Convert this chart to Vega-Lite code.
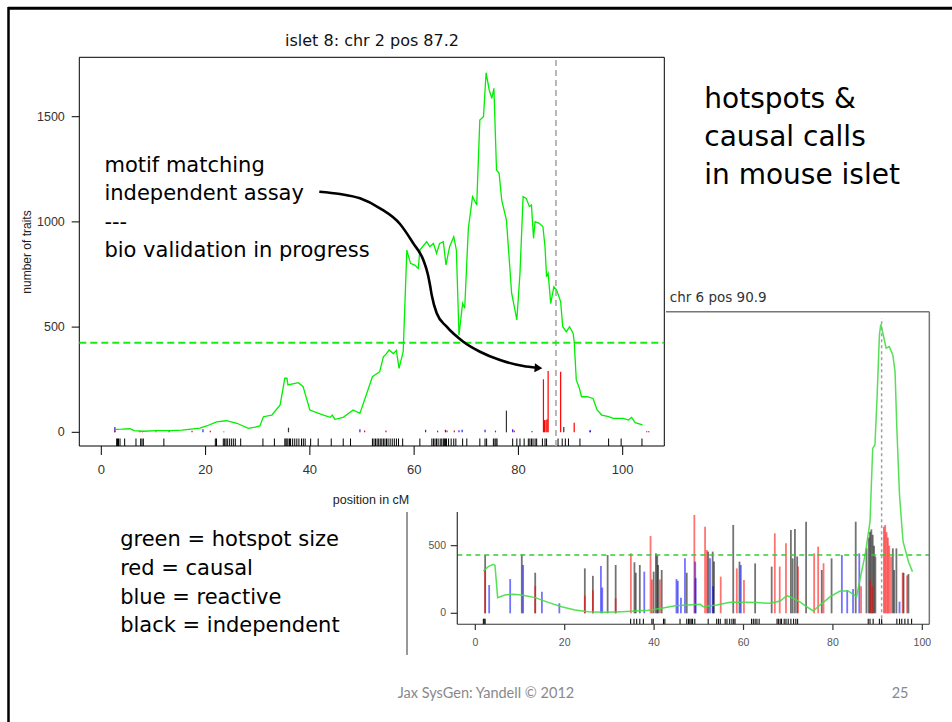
{
  "$schema": "https://vega.github.io/schema/vega-lite/v6.json",
  "width": 952,
  "height": 722,
  "autosize": "none",
  "padding": 0,
  "background": "#ffffff",
  "config": {"view": {"stroke": null}},
  "datasets": {
    "p1curve": [
      {"x":2.6,"y":14},{"x":4.0,"y":15},{"x":5.5,"y":17},{"x":6.3,"y":8},{"x":8.1,"y":5},{"x":10.6,"y":8},{"x":13.2,"y":8},{"x":15.5,"y":10},{"x":18.9,"y":20},{"x":20.2,"y":30},{"x":22.1,"y":50},{"x":24.0,"y":55},{"x":26.0,"y":43},{"x":28.2,"y":19},{"x":29.5,"y":25},{"x":30.4,"y":30},{"x":31.1,"y":74},{"x":32.7,"y":82},{"x":34.3,"y":130},{"x":35.2,"y":257},{"x":35.6,"y":257},{"x":35.8,"y":225},{"x":37.8,"y":236},{"x":38.7,"y":217},{"x":40.0,"y":106},{"x":42.6,"y":82},{"x":43.9,"y":71},{"x":44.3,"y":82},{"x":44.8,"y":62},{"x":46.4,"y":71},{"x":48.3,"y":106},{"x":49.6,"y":90},{"x":50.6,"y":162},{"x":52.0,"y":264},{"x":53.4,"y":288},{"x":54.1,"y":359},{"x":54.7,"y":374},{"x":55.2,"y":391},{"x":56.0,"y":374},{"x":56.6,"y":389},{"x":57.1,"y":304},{"x":57.9,"y":383},{"x":58.6,"y":866},{"x":59.3,"y":803},{"x":60.1,"y":795},{"x":60.8,"y":779},{"x":61.1,"y":866},{"x":62.4,"y":906},{"x":63.0,"y":882},{"x":63.7,"y":898},{"x":64.3,"y":851},{"x":64.9,"y":898},{"x":65.6,"y":906},{"x":66.1,"y":795},{"x":66.8,"y":882},{"x":67.6,"y":930},{"x":68.1,"y":866},{"x":68.6,"y":462},{"x":69.3,"y":613},{"x":69.7,"y":590},{"x":70.4,"y":970},{"x":71.2,"y":1120},{"x":72.0,"y":1080},{"x":72.6,"y":1484},{"x":73.3,"y":1500},{"x":73.8,"y":1709},{"x":74.4,"y":1627},{"x":74.9,"y":1587},{"x":75.3,"y":1635},{"x":75.8,"y":1247},{"x":76.3,"y":1231},{"x":76.8,"y":1104},{"x":77.7,"y":1009},{"x":78.7,"y":661},{"x":79.7,"y":534},{"x":80.3,"y":756},{"x":80.9,"y":1120},{"x":81.5,"y":1112},{"x":82.1,"y":1073},{"x":82.5,"y":1080},{"x":82.9,"y":922},{"x":83.2,"y":1001},{"x":84.0,"y":993},{"x":84.7,"y":977},{"x":85.1,"y":882},{"x":85.4,"y":740},{"x":85.7,"y":756},{"x":86.2,"y":613},{"x":86.8,"y":692},{"x":87.3,"y":677},{"x":88.1,"y":621},{"x":88.5,"y":502},{"x":89.2,"y":478},{"x":89.8,"y":502},{"x":90.5,"y":470},{"x":90.7,"y":431},{"x":91.1,"y":249},{"x":91.7,"y":209},{"x":92.1,"y":169},{"x":93.2,"y":169},{"x":94.3,"y":161},{"x":95.1,"y":106},{"x":96.0,"y":82},{"x":97.3,"y":74},{"x":98.2,"y":66},{"x":100.1,"y":66},{"x":101.1,"y":58},{"x":101.7,"y":71},{"x":102.4,"y":46},{"x":103.8,"y":35}
    ],
    "p1bars": [
      {"x":2.6,"h":25,"type":"reactive"},{"x":2.6,"h":10,"type":"causal"},{"x":7.4,"h":6,"type":"causal"},{"x":7.9,"h":6,"type":"causal"},{"x":10.5,"h":5,"type":"causal"},{"x":13.0,"h":6,"type":"causal"},{"x":17.4,"h":7,"type":"causal"},{"x":19.5,"h":14,"type":"reactive"},{"x":20.9,"h":7,"type":"causal"},{"x":23.5,"h":4,"type":"causal"},{"x":35.9,"h":22,"type":"independent"},{"x":49.6,"h":14,"type":"reactive"},{"x":50.5,"h":8,"type":"causal"},{"x":54.6,"h":8,"type":"causal"},{"x":62.2,"h":12,"type":"reactive"},{"x":64.5,"h":8,"type":"causal"},{"x":66.0,"h":12,"type":"reactive"},{"x":66.3,"h":8,"type":"causal"},{"x":67.7,"h":8,"type":"causal"},{"x":68.6,"h":10,"type":"reactive"},{"x":69.2,"h":12,"type":"reactive"},{"x":73.6,"h":12,"type":"reactive"},{"x":75.6,"h":8,"type":"causal"},{"x":77.7,"h":103,"type":"independent"},{"x":78.9,"h":15,"type":"reactive"},{"x":79.2,"h":8,"type":"causal"},{"x":82.6,"h":6,"type":"causal"},{"x":84.8,"h":252,"type":"causal"},{"x":85.0,"h":58,"type":"causal"},{"x":85.3,"h":58,"type":"causal"},{"x":85.5,"h":62,"type":"causal"},{"x":85.7,"h":291,"type":"causal"},{"x":88.1,"h":288,"type":"causal"},{"x":88.7,"h":25,"type":"independent"},{"x":90.7,"h":46,"type":"causal"},{"x":93.7,"h":8,"type":"causal"},{"x":93.8,"h":10,"type":"reactive"},{"x":104.6,"h":5,"type":"causal"},{"x":105.0,"h":5,"type":"reactive"}
    ],
    "p1rug": [
      {"x":2.95},{"x":3.1},{"x":3.3},{"x":3.59},{"x":4.48},{"x":6.65},{"x":7.55},{"x":7.8},{"x":8.06},{"x":12.0},{"x":21.87},{"x":22.1},{"x":23.4},{"x":23.66},{"x":23.92},{"x":24.17},{"x":24.56},{"x":24.94},{"x":25.32},{"x":25.7},{"x":26.73},{"x":31.0},{"x":33.2},{"x":35.2},{"x":35.4},{"x":35.6},{"x":35.8},{"x":36.1},{"x":36.3},{"x":36.7},{"x":37.1},{"x":37.5},{"x":37.9},{"x":38.4},{"x":38.75},{"x":39.1},{"x":40.15},{"x":41.6},{"x":44.1},{"x":46.4},{"x":47.8},{"x":52.0},{"x":52.3},{"x":52.6},{"x":52.9},{"x":53.2},{"x":53.5},{"x":53.8},{"x":54.1},{"x":54.4},{"x":54.7},{"x":55.0},{"x":55.4},{"x":55.8},{"x":56.2},{"x":56.6},{"x":57.0},{"x":57.8},{"x":61.1},{"x":63.4},{"x":63.7},{"x":64.0},{"x":64.3},{"x":64.6},{"x":65.0},{"x":65.3},{"x":65.6},{"x":65.8},{"x":66.0},{"x":66.2},{"x":66.6},{"x":67.1},{"x":67.6},{"x":68.0},{"x":69.3},{"x":70.1},{"x":72.6},{"x":73.6},{"x":73.9},{"x":75.2},{"x":75.5},{"x":75.7},{"x":75.9},{"x":78.9},{"x":79.7},{"x":80.3},{"x":81.1},{"x":81.9},{"x":82.2},{"x":82.5},{"x":82.8},{"x":83.2},{"x":83.5},{"x":84.6},{"x":85.1},{"x":85.4},{"x":87.6},{"x":88.4},{"x":89.0},{"x":89.6},{"x":91.8},{"x":97.3},{"x":99.7},{"x":103.7}
    ],
    "arrow": [
      {"x":41.81,"y":1143.6},{"x":45.78,"y":1132.6},{"x":49.62,"y":1112},{"x":53.45,"y":1064.6},{"x":57.29,"y":990},{"x":59.84,"y":898},{"x":61.76,"y":819},{"x":62.66,"y":748},{"x":63.04,"y":700},{"x":63.37,"y":652.6},{"x":64.33,"y":565.6},{"x":66.24,"y":501.9},{"x":69.43,"y":430.6},{"x":72.63,"y":383},{"x":76.47,"y":343.6},{"x":80.94,"y":315},{"x":83.5,"y":307}
    ],
    "p2curve": [
      {"x":1.8,"y":313},{"x":2.9,"y":345},{"x":4.0,"y":362},{"x":4.4,"y":355},{"x":5.0,"y":116},{"x":6.6,"y":135},{"x":8.5,"y":140},{"x":10.4,"y":135},{"x":13.4,"y":116},{"x":16.3,"y":81},{"x":19.3,"y":49},{"x":22.3,"y":24},{"x":25.3,"y":12},{"x":29.0,"y":8},{"x":32.8,"y":12},{"x":35.7,"y":17},{"x":38.7,"y":22},{"x":41.7,"y":37},{"x":44.7,"y":56},{"x":47.7,"y":61},{"x":50.3,"y":66},{"x":51.0,"y":49},{"x":54.0,"y":61},{"x":57.0,"y":81},{"x":60.0,"y":81},{"x":63.0,"y":79},{"x":65.9,"y":74},{"x":68.2,"y":91},{"x":69.7,"y":130},{"x":71.1,"y":111},{"x":72.6,"y":85},{"x":74.1,"y":49},{"x":75.6,"y":17},{"x":77.1,"y":61},{"x":79.4,"y":123},{"x":81.6,"y":165},{"x":83.4,"y":165},{"x":85.3,"y":123},{"x":86.1,"y":258},{"x":87.2,"y":431},{"x":88.3,"y":677},{"x":88.9,"y":1219},{"x":89.4,"y":1244},{"x":89.9,"y":1613},{"x":90.4,"y":2057},{"x":90.7,"y":2136},{"x":91.1,"y":2081},{"x":91.9,"y":1959},{"x":92.6,"y":1971},{"x":93.4,"y":1909},{"x":93.9,"y":1786},{"x":94.3,"y":1367},{"x":94.9,"y":874},{"x":95.4,"y":653},{"x":95.7,"y":529},{"x":96.9,"y":381},{"x":97.8,"y":308}
    ],
    "p2bars": [
      {"x":2.2,"h":431,"type":"independent"},{"x":2.2,"h":330,"type":"causal"},{"x":3.1,"h":209,"type":"reactive"},{"x":7.8,"h":253,"type":"reactive"},{"x":10.4,"h":436,"type":"independent"},{"x":10.7,"h":357,"type":"reactive"},{"x":13.4,"h":300,"type":"independent"},{"x":13.4,"h":200,"type":"causal"},{"x":14.9,"h":160,"type":"reactive"},{"x":18.8,"h":74,"type":"reactive"},{"x":24.5,"h":332,"type":"independent"},{"x":24.5,"h":130,"type":"causal"},{"x":26.3,"h":277,"type":"independent"},{"x":26.3,"h":170,"type":"causal"},{"x":28.1,"h":350,"type":"reactive"},{"x":28.4,"h":190,"type":"reactive"},{"x":29.6,"h":431,"type":"independent"},{"x":31.4,"h":357,"type":"independent"},{"x":31.4,"h":110,"type":"causal"},{"x":34.8,"h":443,"type":"causal"},{"x":35.6,"h":377,"type":"independent"},{"x":35.9,"h":300,"type":"independent"},{"x":36.8,"h":357,"type":"independent"},{"x":37.8,"h":308,"type":"reactive"},{"x":39.2,"h":571,"type":"causal"},{"x":39.5,"h":250,"type":"causal"},{"x":39.9,"h":308,"type":"independent"},{"x":40.4,"h":443,"type":"independent"},{"x":40.7,"h":430,"type":"independent"},{"x":40.9,"h":357,"type":"independent"},{"x":41.3,"h":250,"type":"causal"},{"x":41.7,"h":320,"type":"independent"},{"x":45.0,"h":253,"type":"reactive"},{"x":45.3,"h":240,"type":"reactive"},{"x":46.0,"h":115,"type":"reactive"},{"x":46.9,"h":406,"type":"reactive"},{"x":47.3,"h":300,"type":"independent"},{"x":49.0,"h":727,"type":"causal"},{"x":49.2,"h":382,"type":"reactive"},{"x":49.3,"h":260,"type":"reactive"},{"x":51.4,"h":640,"type":"causal"},{"x":51.8,"h":468,"type":"causal"},{"x":52.1,"h":456,"type":"independent"},{"x":52.5,"h":406,"type":"reactive"},{"x":53.1,"h":456,"type":"independent"},{"x":53.2,"h":200,"type":"reactive"},{"x":53.4,"h":382,"type":"independent"},{"x":54.9,"h":271,"type":"causal"},{"x":57.7,"h":653,"type":"independent"},{"x":58.5,"h":332,"type":"causal"},{"x":59.1,"h":382,"type":"independent"},{"x":59.4,"h":357,"type":"reactive"},{"x":60.1,"h":247,"type":"causal"},{"x":62.6,"h":369,"type":"independent"},{"x":66.3,"h":345,"type":"independent"},{"x":67.0,"h":591,"type":"causal"},{"x":68.1,"h":345,"type":"causal"},{"x":69.5,"h":517,"type":"causal"},{"x":70.6,"h":616,"type":"independent"},{"x":71.0,"h":406,"type":"independent"},{"x":71.5,"h":623,"type":"independent"},{"x":72.0,"h":420,"type":"independent"},{"x":72.2,"h":345,"type":"causal"},{"x":74.0,"h":677,"type":"independent"},{"x":75.8,"h":443,"type":"causal"},{"x":76.7,"h":493,"type":"causal"},{"x":77.5,"h":320,"type":"independent"},{"x":77.9,"h":370,"type":"causal"},{"x":79.7,"h":406,"type":"independent"},{"x":82.0,"h":431,"type":"reactive"},{"x":83.2,"h":172,"type":"reactive"},{"x":84.5,"h":180,"type":"reactive"},{"x":85.1,"h":677,"type":"independent"},{"x":85.9,"h":443,"type":"reactive"},{"x":86.3,"h":200,"type":"causal"},{"x":87.5,"h":480,"type":"independent"},{"x":88.0,"h":560,"type":"independent"},{"x":88.3,"h":603,"type":"independent"},{"x":88.6,"h":620,"type":"independent"},{"x":88.9,"h":580,"type":"independent"},{"x":89.2,"h":500,"type":"independent"},{"x":89.5,"h":420,"type":"independent"},{"x":88.3,"h":250,"type":"causal"},{"x":88.8,"h":200,"type":"causal"},{"x":91.4,"h":640,"type":"causal"},{"x":91.7,"h":653,"type":"causal"},{"x":92.0,"h":600,"type":"causal"},{"x":92.3,"h":560,"type":"causal"},{"x":92.6,"h":500,"type":"causal"},{"x":93.0,"h":420,"type":"causal"},{"x":93.4,"h":480,"type":"independent"},{"x":93.7,"h":320,"type":"independent"},{"x":94.2,"h":480,"type":"independent"},{"x":94.9,"h":86,"type":"reactive"},{"x":95.6,"h":300,"type":"causal"},{"x":95.8,"h":300,"type":"independent"},{"x":96.6,"h":280,"type":"causal"},{"x":96.9,"h":290,"type":"independent"}
    ],
    "p2rug": [
      {"x":1.8},{"x":2.0},{"x":2.2},{"x":34.75},{"x":35.5},{"x":36.1},{"x":36.8},{"x":37.6},{"x":39.5},{"x":39.8},{"x":42.1},{"x":42.4},{"x":45.8},{"x":47.3},{"x":47.7},{"x":48.0},{"x":48.3},{"x":48.6},{"x":49.1},{"x":52.1},{"x":54.0},{"x":54.4},{"x":54.8},{"x":55.9},{"x":56.3},{"x":56.9},{"x":57.4},{"x":57.8},{"x":58.1},{"x":61.8},{"x":62.2},{"x":62.6},{"x":63.0},{"x":63.5},{"x":67.5},{"x":67.8},{"x":68.2},{"x":68.5},{"x":69.1},{"x":69.5},{"x":70.0},{"x":70.6},{"x":71.2},{"x":71.7},{"x":72.1},{"x":87.9},{"x":88.3},{"x":89.0},{"x":90.4},{"x":90.9},{"x":94.3},{"x":94.9},{"x":95.4},{"x":96.1},{"x":96.8},{"x":97.6}
    ],
    "xticks": [{"v":0},{"v":20},{"v":40},{"v":60},{"v":80},{"v":100}],
    "p1yticks": [{"v":0},{"v":500},{"v":1000},{"v":1500}],
    "p2yticks": [{"v":0},{"v":500}]
  },
  "resolve": {"scale": {"x": "independent", "y": "independent", "color": "independent"}},
  "layer": [
    {
      "layer": [
        {
          "data": {"values": [{}]},
          "mark": {"type": "rect", "filled": false, "stroke": "#000000", "strokeWidth": 1},
          "encoding": {
            "x": {"datum": -4.22, "type": "quantitative", "scale": {"domain": [-19.43, 163.16], "nice": false, "zero": false}, "axis": null},
            "x2": {"datum": 107.98},
            "y": {"datum": -65.1, "type": "quantitative", "scale": {"domain": [-1376.9, 2054.7], "nice": false, "zero": false}, "axis": null},
            "y2": {"datum": 1782.3}
          }
        },
        {
          "data": {"values": [{}]},
          "mark": {"type": "rule", "stroke": "#b0b0b0", "strokeWidth": 1.8, "strokeDash": [6, 4]},
          "encoding": {
            "x": {"datum": 87.2, "type": "quantitative", "scale": {"domain": [-19.43, 163.16], "nice": false, "zero": false}, "axis": null},
            "y": {"datum": -65.1, "type": "quantitative", "scale": {"domain": [-1376.9, 2054.7], "nice": false, "zero": false}, "axis": null},
            "y2": {"datum": 1782.3}
          }
        },
        {
          "data": {"values": [{}]},
          "mark": {"type": "rule", "stroke": "#11ee11", "strokeWidth": 2, "strokeDash": [7, 4]},
          "encoding": {
            "x": {"datum": -4.22, "type": "quantitative", "scale": {"domain": [-19.43, 163.16], "nice": false, "zero": false}, "axis": null},
            "x2": {"datum": 107.98},
            "y": {"datum": 426, "type": "quantitative", "scale": {"domain": [-1376.9, 2054.7], "nice": false, "zero": false}, "axis": null}
          }
        },
        {
          "data": {"name": "p1bars"},
          "mark": {"type": "rule", "strokeWidth": 1.2},
          "encoding": {
            "x": {"field": "x", "type": "quantitative", "scale": {"domain": [-19.43, 163.16], "nice": false, "zero": false}, "axis": null},
            "y": {"field": "h", "type": "quantitative", "scale": {"domain": [-1376.9, 2054.7], "nice": false, "zero": false}, "axis": null},
            "y2": {"datum": 0},
            "color": {"field": "type", "type": "nominal", "scale": {"domain": ["causal", "reactive", "independent"], "range": ["#ff0000", "#2020ff", "#333333"]}, "legend": null}
          }
        },
        {
          "data": {"name": "p1rug"},
          "mark": {"type": "rule", "stroke": "#000000", "strokeWidth": 1},
          "encoding": {
            "x": {"field": "x", "type": "quantitative", "scale": {"domain": [-19.43, 163.16], "nice": false, "zero": false}, "axis": null},
            "y": {"datum": -65.1, "type": "quantitative", "scale": {"domain": [-1376.9, 2054.7], "nice": false, "zero": false}, "axis": null},
            "y2": {"datum": -29.5}
          }
        },
        {
          "data": {"name": "p1curve"},
          "mark": {"type": "line", "stroke": "#00ee00", "strokeWidth": 1.3},
          "encoding": {
            "x": {"field": "x", "type": "quantitative", "scale": {"domain": [-19.43, 163.16], "nice": false, "zero": false}, "axis": null},
            "y": {"field": "y", "type": "quantitative", "scale": {"domain": [-1376.9, 2054.7], "nice": false, "zero": false}, "axis": null}
          }
        },
        {
          "data": {"name": "xticks"},
          "mark": {"type": "rule", "stroke": "#000000", "strokeWidth": 1},
          "encoding": {
            "x": {"field": "v", "type": "quantitative", "scale": {"domain": [-19.43, 163.16], "nice": false, "zero": false}, "axis": null},
            "y": {"datum": -65.1, "type": "quantitative", "scale": {"domain": [-1376.9, 2054.7], "nice": false, "zero": false}, "axis": null},
            "y2": {"datum": -107.8}
          }
        },
        {
          "data": {"name": "xticks"},
          "mark": {"type": "text", "font": "Liberation Sans", "fontSize": 13, "align": "center", "baseline": "middle", "color": "#333333"},
          "encoding": {
            "x": {"field": "v", "type": "quantitative", "scale": {"domain": [-19.43, 163.16], "nice": false, "zero": false}, "axis": null},
            "y": {"datum": -177.3, "type": "quantitative", "scale": {"domain": [-1376.9, 2054.7], "nice": false, "zero": false}, "axis": null},
            "text": {"field": "v", "type": "nominal"}
          }
        },
        {
          "data": {"name": "p1yticks"},
          "mark": {"type": "rule", "stroke": "#000000", "strokeWidth": 1},
          "encoding": {
            "x": {"datum": -5.68, "type": "quantitative", "scale": {"domain": [-19.43, 163.16], "nice": false, "zero": false}, "axis": null},
            "x2": {"datum": -4.22},
            "y": {"field": "v", "type": "quantitative", "scale": {"domain": [-1376.9, 2054.7], "nice": false, "zero": false}, "axis": null}
          }
        },
        {
          "data": {"name": "p1yticks"},
          "mark": {"type": "text", "font": "Liberation Sans", "fontSize": 12.5, "align": "right", "baseline": "middle", "color": "#333333"},
          "encoding": {
            "x": {"datum": -7.0, "type": "quantitative", "scale": {"domain": [-19.43, 163.16], "nice": false, "zero": false}, "axis": null},
            "y": {"field": "v", "type": "quantitative", "scale": {"domain": [-1376.9, 2054.7], "nice": false, "zero": false}, "axis": null},
            "text": {"field": "v", "type": "nominal"}
          }
        },
        {
          "data": {"values": [{"t": "number of traits"}]},
          "mark": {"type": "text", "font": "Liberation Sans", "fontSize": 12, "align": "center", "baseline": "middle", "angle": 270, "color": "#222222"},
          "encoding": {
            "x": {"datum": -14.25, "type": "quantitative", "scale": {"domain": [-19.43, 163.16], "nice": false, "zero": false}, "axis": null},
            "y": {"datum": 857, "type": "quantitative", "scale": {"domain": [-1376.9, 2054.7], "nice": false, "zero": false}, "axis": null},
            "text": {"field": "t", "type": "nominal"}
          }
        },
        {
          "data": {"values": [{"t": "position in cM"}]},
          "mark": {"type": "text", "font": "Liberation Sans", "fontSize": 12.5, "align": "center", "baseline": "middle", "color": "#222222"},
          "encoding": {
            "x": {"datum": 51.73, "type": "quantitative", "scale": {"domain": [-19.43, 163.16], "nice": false, "zero": false}, "axis": null},
            "y": {"datum": -319.4, "type": "quantitative", "scale": {"domain": [-1376.9, 2054.7], "nice": false, "zero": false}, "axis": null},
            "text": {"field": "t", "type": "nominal"}
          }
        },
        {
          "data": {"values": [{"t": "islet 8: chr 2 pos 87.2"}]},
          "mark": {"type": "text", "font": "DejaVu Sans", "fontSize": 16, "align": "center", "baseline": "middle", "color": "#111111"},
          "encoding": {
            "x": {"datum": 51.92, "type": "quantitative", "scale": {"domain": [-19.43, 163.16], "nice": false, "zero": false}, "axis": null},
            "y": {"datum": 1857.9, "type": "quantitative", "scale": {"domain": [-1376.9, 2054.7], "nice": false, "zero": false}, "axis": null},
            "text": {"field": "t", "type": "nominal"}
          }
        },
        {
          "data": {"values": [{"t": "motif matching\nindependent assay\n---\nbio validation in progress"}]},
          "mark": {"type": "text", "font": "DejaVu Sans", "fontSize": 21, "align": "left", "baseline": "alphabetic", "lineBreak": "\n", "lineHeight": 28.5, "color": "#000000"},
          "encoding": {
            "x": {"datum": 0.6, "type": "quantitative", "scale": {"domain": [-19.43, 163.16], "nice": false, "zero": false}, "axis": null},
            "y": {"datum": 1238.6, "type": "quantitative", "scale": {"domain": [-1376.9, 2054.7], "nice": false, "zero": false}, "axis": null},
            "text": {"field": "t", "type": "nominal"}
          }
        },
        {
          "data": {"values": [{"t": "hotspots &\ncausal calls\nin mouse islet"}]},
          "mark": {"type": "text", "font": "DejaVu Sans", "fontSize": 28, "align": "left", "baseline": "alphabetic", "lineBreak": "\n", "lineHeight": 38, "color": "#000000"},
          "encoding": {
            "x": {"datum": 115.65, "type": "quantitative", "scale": {"domain": [-19.43, 163.16], "nice": false, "zero": false}, "axis": null},
            "y": {"datum": 1540.4, "type": "quantitative", "scale": {"domain": [-1376.9, 2054.7], "nice": false, "zero": false}, "axis": null},
            "text": {"field": "t", "type": "nominal"}
          }
        },
        {
          "data": {"values": [{"t": "green = hotspot size\nred = causal\nblue = reactive\nblack = independent"}]},
          "mark": {"type": "text", "font": "DejaVu Sans", "fontSize": 21, "align": "left", "baseline": "alphabetic", "lineBreak": "\n", "lineHeight": 28.7, "color": "#000000"},
          "encoding": {
            "x": {"datum": 3.62, "type": "quantitative", "scale": {"domain": [-19.43, 163.16], "nice": false, "zero": false}, "axis": null},
            "y": {"datum": -542, "type": "quantitative", "scale": {"domain": [-1376.9, 2054.7], "nice": false, "zero": false}, "axis": null},
            "text": {"field": "t", "type": "nominal"}
          }
        },
        {
          "data": {"values": [{"t": "Jax SysGen: Yandell © 2012"}]},
          "mark": {"type": "text", "font": "Lato", "fontSize": 14.5, "align": "center", "baseline": "middle", "color": "#898989"},
          "encoding": {
            "x": {"datum": 73.78, "type": "quantitative", "scale": {"domain": [-19.43, 163.16], "nice": false, "zero": false}, "axis": null},
            "y": {"datum": -1243, "type": "quantitative", "scale": {"domain": [-1376.9, 2054.7], "nice": false, "zero": false}, "axis": null},
            "text": {"field": "t", "type": "nominal"}
          }
        },
        {
          "data": {"values": [{"t": "25"}]},
          "mark": {"type": "text", "font": "Lato", "fontSize": 14.5, "align": "center", "baseline": "middle", "color": "#898989"},
          "encoding": {
            "x": {"datum": 153.2, "type": "quantitative", "scale": {"domain": [-19.43, 163.16], "nice": false, "zero": false}, "axis": null},
            "y": {"datum": -1243, "type": "quantitative", "scale": {"domain": [-1376.9, 2054.7], "nice": false, "zero": false}, "axis": null},
            "text": {"field": "t", "type": "nominal"}
          }
        },
        {
          "data": {"name": "arrow"},
          "mark": {"type": "line", "stroke": "#000000", "strokeWidth": 2.6, "interpolate": "monotone"},
          "encoding": {
            "x": {"field": "x", "type": "quantitative", "scale": {"domain": [-19.43, 163.16], "nice": false, "zero": false}, "axis": null},
            "y": {"field": "y", "type": "quantitative", "scale": {"domain": [-1376.9, 2054.7], "nice": false, "zero": false}, "axis": null}
          }
        },
        {
          "data": {"values": [{}]},
          "mark": {"type": "point", "shape": "triangle-right", "filled": true, "size": 80, "color": "#000000", "opacity": 1, "angle": 4},
          "encoding": {
            "x": {"datum": 83.85, "type": "quantitative", "scale": {"domain": [-19.43, 163.16], "nice": false, "zero": false}, "axis": null},
            "y": {"datum": 305.6, "type": "quantitative", "scale": {"domain": [-1376.9, 2054.7], "nice": false, "zero": false}, "axis": null}
          }
        },
        {
          "data": {"values": [{}]},
          "mark": {"type": "rule", "stroke": "#000000", "strokeWidth": 3},
          "encoding": {
            "x": {"datum": -17.9, "type": "quantitative", "scale": {"domain": [-19.43, 163.16], "nice": false, "zero": false}, "axis": null},
            "x2": {"datum": 166},
            "y": {"datum": 2015.2, "type": "quantitative", "scale": {"domain": [-1376.9, 2054.7], "nice": false, "zero": false}, "axis": null}
          }
        },
        {
          "data": {"values": [{}]},
          "mark": {"type": "rule", "stroke": "#000000", "strokeWidth": 2.5},
          "encoding": {
            "x": {"datum": -17.8, "type": "quantitative", "scale": {"domain": [-19.43, 163.16], "nice": false, "zero": false}, "axis": null},
            "y": {"datum": 2022, "type": "quantitative", "scale": {"domain": [-1376.9, 2054.7], "nice": false, "zero": false}, "axis": null},
            "y2": {"datum": -1420}
          }
        }
      ]
    },
    {
      "layer": [
        {
          "data": {"name": "p2bars"},
          "mark": {"type": "rule", "strokeWidth": 1.8, "opacity": 0.55},
          "encoding": {
            "x": {"field": "x", "type": "quantitative", "scale": {"domain": [-106.33, 106.64], "nice": false, "zero": false}, "axis": null},
            "y": {"field": "h", "type": "quantitative", "scale": {"domain": [-803.4, 4532.9], "nice": false, "zero": false}, "axis": null},
            "y2": {"datum": 0},
            "color": {"field": "type", "type": "nominal", "scale": {"domain": ["causal", "reactive", "independent"], "range": ["#ff0000", "#0000ff", "#000000"]}, "legend": null}
          }
        },
        {
          "data": {"name": "p2curve"},
          "mark": {"type": "line", "stroke": "#44dd44", "strokeWidth": 1.5, "opacity": 0.9},
          "encoding": {
            "x": {"field": "x", "type": "quantitative", "scale": {"domain": [-106.33, 106.64], "nice": false, "zero": false}, "axis": null},
            "y": {"field": "y", "type": "quantitative", "scale": {"domain": [-803.4, 4532.9], "nice": false, "zero": false}, "axis": null}
          }
        },
        {
          "data": {"values": [{}]},
          "mark": {"type": "rule", "stroke": "#33cc33", "strokeWidth": 1.3, "strokeDash": [5, 4]},
          "encoding": {
            "x": {"datum": -4.03, "type": "quantitative", "scale": {"domain": [-106.33, 106.64], "nice": false, "zero": false}, "axis": null},
            "x2": {"datum": 101.57},
            "y": {"datum": 431, "type": "quantitative", "scale": {"domain": [-803.4, 4532.9], "nice": false, "zero": false}, "axis": null}
          }
        },
        {
          "data": {"values": [{}]},
          "mark": {"type": "rule", "stroke": "#a0a0a0", "strokeWidth": 1.5, "strokeDash": [3, 3]},
          "encoding": {
            "x": {"datum": 90.9, "type": "quantitative", "scale": {"domain": [-106.33, 106.64], "nice": false, "zero": false}, "axis": null},
            "y": {"datum": -81, "type": "quantitative", "scale": {"domain": [-803.4, 4532.9], "nice": false, "zero": false}, "axis": null},
            "y2": {"datum": 2182}
          }
        },
        {
          "data": {"name": "p2rug"},
          "mark": {"type": "rule", "stroke": "#111111", "strokeWidth": 1.1},
          "encoding": {
            "x": {"field": "x", "type": "quantitative", "scale": {"domain": [-106.33, 106.64], "nice": false, "zero": false}, "axis": null},
            "y": {"datum": -81, "type": "quantitative", "scale": {"domain": [-803.4, 4532.9], "nice": false, "zero": false}, "axis": null},
            "y2": {"datum": -40}
          }
        },
        {
          "data": {"values": [{}]},
          "mark": {"type": "rule", "stroke": "#777777", "strokeWidth": 1.5},
          "encoding": {
            "x": {"datum": 42.66, "type": "quantitative", "scale": {"domain": [-106.33, 106.64], "nice": false, "zero": false}, "axis": null},
            "x2": {"datum": 101.57},
            "y": {"datum": 2229, "type": "quantitative", "scale": {"domain": [-803.4, 4532.9], "nice": false, "zero": false}, "axis": null}
          }
        },
        {
          "data": {"values": [{}]},
          "mark": {"type": "rule", "stroke": "#777777", "strokeWidth": 1.5},
          "encoding": {
            "x": {"datum": 101.57, "type": "quantitative", "scale": {"domain": [-106.33, 106.64], "nice": false, "zero": false}, "axis": null},
            "y": {"datum": -81, "type": "quantitative", "scale": {"domain": [-803.4, 4532.9], "nice": false, "zero": false}, "axis": null},
            "y2": {"datum": 2229}
          }
        },
        {
          "data": {"values": [{}]},
          "mark": {"type": "rule", "stroke": "#333333", "strokeWidth": 1.2},
          "encoding": {
            "x": {"datum": -4.03, "type": "quantitative", "scale": {"domain": [-106.33, 106.64], "nice": false, "zero": false}, "axis": null},
            "x2": {"datum": 101.57},
            "y": {"datum": -81, "type": "quantitative", "scale": {"domain": [-803.4, 4532.9], "nice": false, "zero": false}, "axis": null}
          }
        },
        {
          "data": {"values": [{}]},
          "mark": {"type": "rule", "stroke": "#333333", "strokeWidth": 1.2},
          "encoding": {
            "x": {"datum": -4.03, "type": "quantitative", "scale": {"domain": [-106.33, 106.64], "nice": false, "zero": false}, "axis": null},
            "y": {"datum": -81, "type": "quantitative", "scale": {"domain": [-803.4, 4532.9], "nice": false, "zero": false}, "axis": null},
            "y2": {"datum": 749}
          }
        },
        {
          "data": {"name": "xticks"},
          "mark": {"type": "rule", "stroke": "#333333", "strokeWidth": 1.2},
          "encoding": {
            "x": {"field": "v", "type": "quantitative", "scale": {"domain": [-106.33, 106.64], "nice": false, "zero": false}, "axis": null},
            "y": {"datum": -81, "type": "quantitative", "scale": {"domain": [-803.4, 4532.9], "nice": false, "zero": false}, "axis": null},
            "y2": {"datum": -123}
          }
        },
        {
          "data": {"name": "xticks"},
          "mark": {"type": "text", "font": "Liberation Sans", "fontSize": 10.5, "align": "center", "baseline": "middle", "color": "#555555"},
          "encoding": {
            "x": {"field": "v", "type": "quantitative", "scale": {"domain": [-106.33, 106.64], "nice": false, "zero": false}, "axis": null},
            "y": {"datum": -219.5, "type": "quantitative", "scale": {"domain": [-803.4, 4532.9], "nice": false, "zero": false}, "axis": null},
            "text": {"field": "v", "type": "nominal"}
          }
        },
        {
          "data": {"name": "p2yticks"},
          "mark": {"type": "rule", "stroke": "#333333", "strokeWidth": 1.2},
          "encoding": {
            "x": {"datum": -5.5, "type": "quantitative", "scale": {"domain": [-106.33, 106.64], "nice": false, "zero": false}, "axis": null},
            "x2": {"datum": -4.03},
            "y": {"field": "v", "type": "quantitative", "scale": {"domain": [-803.4, 4532.9], "nice": false, "zero": false}, "axis": null}
          }
        },
        {
          "data": {"name": "p2yticks"},
          "mark": {"type": "text", "font": "Liberation Sans", "fontSize": 10.5, "align": "right", "baseline": "middle", "color": "#555555"},
          "encoding": {
            "x": {"datum": -6.55, "type": "quantitative", "scale": {"domain": [-106.33, 106.64], "nice": false, "zero": false}, "axis": null},
            "y": {"field": "v", "type": "quantitative", "scale": {"domain": [-803.4, 4532.9], "nice": false, "zero": false}, "axis": null},
            "text": {"field": "v", "type": "nominal"}
          }
        },
        {
          "data": {"values": [{"t": "chr 6 pos 90.9"}]},
          "mark": {"type": "text", "font": "DejaVu Sans", "fontSize": 13.5, "align": "left", "baseline": "middle", "color": "#333333"},
          "encoding": {
            "x": {"datum": 43.49, "type": "quantitative", "scale": {"domain": [-106.33, 106.64], "nice": false, "zero": false}, "axis": null},
            "y": {"datum": 2330, "type": "quantitative", "scale": {"domain": [-803.4, 4532.9], "nice": false, "zero": false}, "axis": null},
            "text": {"field": "t", "type": "nominal"}
          }
        },
        {
          "data": {"values": [{}]},
          "mark": {"type": "rule", "stroke": "#333333", "strokeWidth": 1},
          "encoding": {
            "x": {"datum": -15.28, "type": "quantitative", "scale": {"domain": [-106.33, 106.64], "nice": false, "zero": false}, "axis": null},
            "y": {"datum": -308, "type": "quantitative", "scale": {"domain": [-803.4, 4532.9], "nice": false, "zero": false}, "axis": null},
            "y2": {"datum": 749}
          }
        }
      ]
    }
  ]
}
